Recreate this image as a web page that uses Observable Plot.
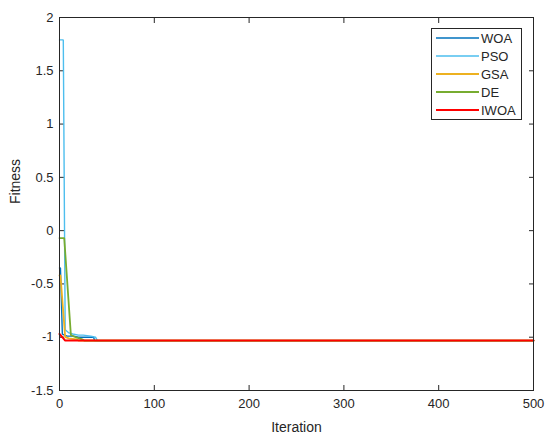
<!DOCTYPE html>
<html>
<head>
<meta charset="utf-8">
<script src="https://cdn.jsdelivr.net/npm/d3@7"></script>
<script src="https://cdn.jsdelivr.net/npm/@observablehq/plot@0.6"></script>
<style>
  html, body { margin: 0; padding: 0; background: #fff; }
  #wrap { position: relative; width: 550px; height: 444px; font-family: "Liberation Sans", Arial, sans-serif; }
  #legend { position: absolute; left: 0; top: 0; }
</style>
</head>
<body>
<div id="wrap"></div>
<script>
// Series names and colours
const seriesNames = ["WOA", "PSO", "GSA", "DE", "IWOA"];
const seriesColors = ["#0072BD", "#4DBEEE", "#EDB120", "#77AC30", "#FF0000"];
const seriesWidths = [1.4, 1.4, 1.8, 1.8, 2];

// Read-off convergence curves (iteration, fitness)
const woaIter = [0, 1, 3, 8, 15, 20, 36, 37, 500];
const woaFit  = [-0.35, -0.35, -0.97, -0.99, -0.99, -1.00, -1.00, -1.0316, -1.0316];
const psoIter = [0, 4, 6, 10, 14, 20, 25, 33, 38, 40, 500];
const psoFit  = [1.79, 1.79, -0.93, -0.96, -0.97, -0.98, -0.98, -0.99, -1.00, -1.0316, -1.0316];
const gsaIter = [0, 1, 6, 10, 18, 20, 500];
const gsaFit  = [-0.42, -0.42, -1.00, -1.01, -1.02, -1.0316, -1.0316];
const deIter  = [0, 5, 12, 17, 24, 26, 500];
const deFit   = [-0.07, -0.07, -0.98, -1.00, -1.02, -1.0316, -1.0316];
const iwoaIter = [0, 3, 6, 500];
const iwoaFit  = [-0.97, -1.00, -1.0316, -1.0316];

const xTicks = [0, 100, 200, 300, 400, 500];
const yTicks = [-1.5, -1, -0.5, 0, 0.5, 1, 1.5, 2];

const iters = [woaIter, psoIter, gsaIter, deIter, iwoaIter];
const fits = [woaFit, psoFit, gsaFit, deFit, iwoaFit];
const rows = [];
seriesNames.forEach((name, k) => {
  iters[k].forEach((it, i) => rows.push({series: name, iter: it, fit: fits[k][i]}));
});

const axisColor = "#262626";
const fmtY = d => (d === 0 ? "0" : String(d));

const plot = Plot.plot({
  width: 550,
  height: 444,
  marginLeft: 59,
  marginRight: 17,
  marginTop: 17,
  marginBottom: 54,
  style: {fontFamily: "'Liberation Sans', Arial, sans-serif", fontSize: "13px", color: axisColor, background: "#fff"},
  x: {domain: [0, 500], ticks: xTicks},
  y: {domain: [-1.5, 2], ticks: yTicks},
  marks: [
    // tick labels
    Plot.axisX(xTicks, {anchor: "bottom", tickSize: 0, tickPadding: 8, fontSize: 13, fill: axisColor, label: null}),
    Plot.axisY(yTicks, {anchor: "left", tickSize: 0, tickPadding: 6, fontSize: 13, fill: axisColor, tickFormat: fmtY, label: null}),
    // inward ticks on all four sides
    Plot.axisX(xTicks, {anchor: "bottom", tickSize: 5, dy: -5, tickFormat: () => "", stroke: axisColor, label: null}),
    Plot.axisX(xTicks, {anchor: "top", tickSize: 5, dy: 5, tickFormat: () => "", stroke: axisColor, label: null}),
    Plot.axisY(yTicks, {anchor: "left", tickSize: 5, dx: 5, tickFormat: () => "", stroke: axisColor, label: null}),
    Plot.axisY(yTicks, {anchor: "right", tickSize: 5, dx: -5, tickFormat: () => "", stroke: axisColor, label: null}),
    // curves
    ...seriesNames.map((name, k) =>
      Plot.line(rows.filter(r => r.series === name), {
        x: "iter", y: "fit",
        stroke: seriesColors[k], strokeWidth: seriesWidths[k],
        strokeLinejoin: "miter"
      })
    ),
    Plot.frame({stroke: axisColor, strokeWidth: 1}),
    // axis titles
    Plot.text(["Iteration"], {frameAnchor: "bottom", dy: 37, fontSize: 14, fill: axisColor, lineAnchor: "middle"}),
    Plot.text(["Fitness"], {frameAnchor: "left", dx: -44, rotate: -90, fontSize: 14, fill: axisColor})
  ]
});

const wrap = document.getElementById("wrap");
wrap.appendChild(plot);

// Legend (boxed, top-right like MATLAB)
const lg = d3.select(wrap).append("svg")
  .attr("id", "legend")
  .attr("width", 550).attr("height", 444)
  .style("font-family", "'Liberation Sans', Arial, sans-serif");
const bx = 431, by = 28, bw = 90, bh = 91;
lg.append("rect").attr("x", bx + 0.5).attr("y", by + 0.5).attr("width", bw).attr("height", bh)
  .attr("fill", "#fff").attr("stroke", axisColor).attr("stroke-width", 1);
seriesNames.forEach((name, k) => {
  const yy = by + 10 + k * 18;
  lg.append("line").attr("x1", bx + 5).attr("x2", bx + 48).attr("y1", yy).attr("y2", yy)
    .attr("stroke", seriesColors[k]).attr("stroke-width", seriesWidths[k]);
  lg.append("text").attr("x", bx + 50).attr("y", yy).attr("dy", "0.35em")
    .attr("font-size", 13).attr("fill", axisColor).text(name);
});
</script>
</body>
</html>
